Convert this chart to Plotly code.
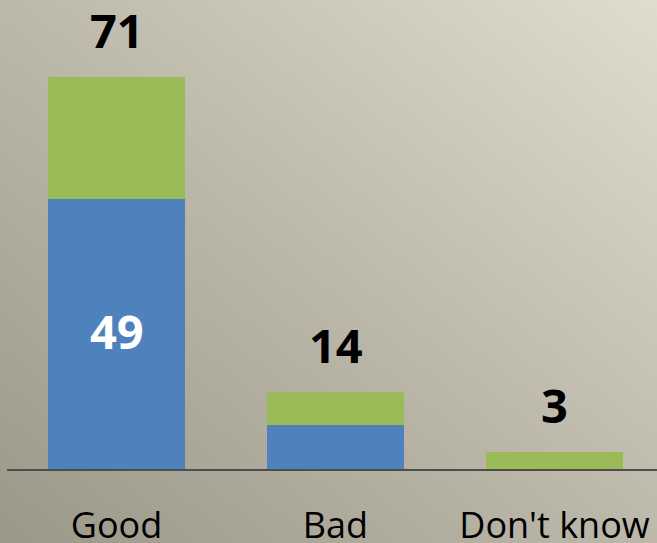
import plotly.graph_objects as go
import urllib.parse

categories = ["Good", "Bad", "Don't know"]
blue_values = [49, 8, 0]
green_values = [22, 6, 3]
totals = [71, 14, 3]

W, H = 657, 543
ML, MR, MT, MB = 7, 0, 0, 74
plot_w = W - ML - MR
plot_h = H - MT - MB

svg = (
    "<svg xmlns='http://www.w3.org/2000/svg' width='657' height='543' preserveAspectRatio='none'>"
    "<defs><linearGradient id='g' x1='0' y1='1' x2='1' y2='0'>"
    "<stop offset='0' stop-color='#9b988a'/>"
    "<stop offset='0.5' stop-color='#bcb9aa'/>"
    "<stop offset='1' stop-color='#dfddce'/>"
    "</linearGradient></defs>"
    "<rect width='657' height='543' fill='url(#g)'/></svg>"
)
src = "data:image/svg+xml;charset=utf-8," + urllib.parse.quote(svg)

fig = go.Figure()
fig.add_trace(go.Bar(x=categories, y=blue_values, marker_color="#4f81bd",
                     marker_line_width=0, width=0.626, name="a"))
fig.add_trace(go.Bar(x=categories, y=green_values, marker_color="#9bbb59",
                     marker_line_width=0, width=0.626, name="b"))

font_num = "Open Sans"
for c, t in zip(categories, totals):
    fig.add_annotation(x=c, y=t, text="<b>%d</b>" % t, showarrow=False,
                       yanchor="middle", yshift=47,
                       font=dict(family=font_num, size=47, color="black"))
fig.add_annotation(x=categories[0], y=blue_values[0] / 2, text="<b>%d</b>" % blue_values[0],
                   showarrow=False, yanchor="middle", yshift=3,
                   font=dict(family=font_num, size=47, color="white"))

fig.add_layout_image(dict(source=src, xref="paper", yref="paper",
                          x=-ML / plot_w, y=1 + MT / plot_h,
                          sizex=W / plot_w, sizey=H / plot_h,
                          xanchor="left", yanchor="top", sizing="stretch",
                          layer="below"))

fig.update_layout(
    width=W, height=H, barmode="stack", showlegend=False, autosize=False,
    margin=dict(l=ML, r=MR, t=MT, b=MB, pad=0),
    paper_bgcolor="rgba(0,0,0,0)", plot_bgcolor="rgba(0,0,0,0)",
    bargap=0,
)
fig.update_xaxes(range=[-0.5, -0.5 + plot_w / 219.0], showgrid=False, zeroline=False,
                 showline=True, linecolor="#4d4d4d", linewidth=1.5, automargin=False,
                 ticks="", ticklabelstandoff=24,
                 tickfont=dict(family="Open Sans", size=36, color="black"))
fig.update_yaxes(range=[0, plot_h / 5.52], visible=False, showgrid=False, zeroline=False,
                 automargin=False)

fig.write_html("out.html",
               config={"displayModeBar": False, "responsive": False},
               post_script="document.body.style.margin='0px';document.body.style.overflow='hidden';")
